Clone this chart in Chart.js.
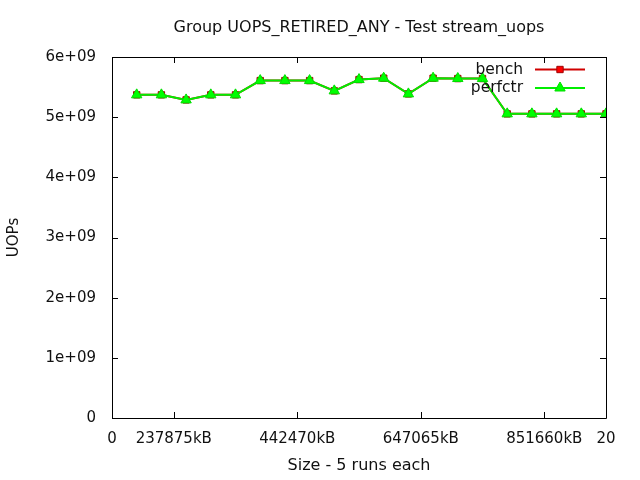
<!DOCTYPE html>
<html>
<head>
<meta charset="utf-8">
<script src="https://cdn.jsdelivr.net/npm/chart.js@4/dist/chart.umd.min.js"></script>
<style>
  html, body { margin: 0; padding: 0; background: #fff; }
  canvas { display: block; }
</style>
</head>
<body>
<canvas id="c" width="640" height="480"></canvas>
<script>
// run index on the x axis (one point per size)
var runs = [1, 2, 3, 4, 5, 6, 7, 8, 9, 10, 11, 12, 13, 14, 15, 16, 17, 18, 19, 20];
var bench = [5.371e9, 5.371e9, 5.287e9, 5.371e9, 5.371e9, 5.608e9, 5.608e9, 5.608e9, 5.437e9, 5.625e9,
             5.648e9, 5.387e9, 5.648e9, 5.642e9, 5.642e9, 5.055e9, 5.055e9, 5.055e9, 5.055e9, 5.055e9];
var perfctr = [5.371e9, 5.371e9, 5.287e9, 5.371e9, 5.371e9, 5.608e9, 5.608e9, 5.608e9, 5.437e9, 5.625e9,
               5.648e9, 5.387e9, 5.648e9, 5.642e9, 5.642e9, 5.055e9, 5.055e9, 5.055e9, 5.055e9, 5.055e9];
var xTickPos = [0, 2.5, 7.5, 12.5, 17.5, 20];
var xTickLabels = ["0", "237875kB", "442470kB", "647065kB", "851660kB", "20"];
var yTickLabels = ["0", "1e+09", "2e+09", "3e+09", "4e+09", "5e+09", "6e+09"];

var FONT = "'DejaVu Sans', sans-serif";
var TXT = "#111";

function pts(vals) {
  return runs.map(function (r, i) { return { x: r, y: vals[i] }; });
}

// gnuplot style frame with inward ticks on all four sides + key box
var frame = {
  id: "frame",
  afterDraw: function (chart) {
    var ctx = chart.ctx;
    var a = chart.chartArea;
    var xs = chart.scales.x, ys = chart.scales.y;
    var t = 6;
    ctx.save();
    ctx.strokeStyle = "#000";
    ctx.lineWidth = 1;
    ctx.beginPath();
    ctx.rect(Math.round(a.left) + 0.5, Math.round(a.top) + 0.5,
             Math.round(a.right - a.left), Math.round(a.bottom - a.top));
    ys.ticks.forEach(function (tk) {
      var y = Math.round(ys.getPixelForValue(tk.value)) + 0.5;
      ctx.moveTo(a.left, y); ctx.lineTo(a.left + t, y);
      ctx.moveTo(a.right, y); ctx.lineTo(a.right - t, y);
    });
    xs.ticks.forEach(function (tk) {
      var x = Math.round(xs.getPixelForValue(tk.value)) + 0.5;
      ctx.moveTo(x, a.bottom); ctx.lineTo(x, a.bottom - t);
      ctx.moveTo(x, a.top); ctx.lineTo(x, a.top + t);
    });
    ctx.stroke();

    // key
    var rows = [chart.data.datasets[0], chart.data.datasets[1]];
    var ky = [69.5, 88];
    ctx.font = "15.5px " + FONT;
    ctx.textAlign = "right";
    ctx.textBaseline = "middle";
    rows.forEach(function (ds, i) {
      ctx.fillStyle = TXT;
      ctx.fillText(ds.label, 523, ky[i]);
      ctx.strokeStyle = ds.borderColor;
      ctx.lineWidth = 2;
      ctx.beginPath();
      ctx.moveTo(535, ky[i]); ctx.lineTo(585, ky[i]);
      ctx.stroke();
      ctx.fillStyle = ds.pointBackgroundColor;
      ctx.strokeStyle = ds.pointBorderColor;
      ctx.lineWidth = 1;
      Chart.helpers.drawPoint(ctx, {
        pointStyle: ds.pointStyle, radius: ds.pointRadius, rotation: 0, borderWidth: 1
      }, 560, ky[i]);
    });
    ctx.restore();
  }
};

new Chart(document.getElementById("c").getContext("2d"), {
  type: "line",
  data: {
    datasets: [
      {
        label: "bench",
        data: pts(bench),
        order: 1,
        borderColor: "#d00000",
        borderWidth: 2,
        pointStyle: "rect",
        pointRadius: 4.5,
        pointBackgroundColor: "#ff0000",
        pointBorderColor: "#a00000",
        pointBorderWidth: 1
      },
      {
        label: "perfctr",
        data: pts(perfctr),
        order: 0,
        borderColor: "#00ee00",
        borderWidth: 2,
        pointStyle: "triangle",
        pointRadius: 6,
        pointBackgroundColor: "#00ff00",
        pointBorderColor: "#00dd00",
        pointBorderWidth: 1
      }
    ]
  },
  options: {
    responsive: false,
    animation: false,
    layout: { padding: { left: 0, right: 34, top: 0, bottom: 0 } },
    plugins: {
      legend: { display: false },
      tooltip: { enabled: false },
      title: {
        display: true,
        text: "Group UOPS_RETIRED_ANY - Test stream_uops",
        fullSize: false,
        color: TXT,
        font: { family: FONT, size: 16, weight: "normal" },
        padding: { top: 18.5, bottom: 19.3 }
      }
    },
    scales: {
      x: {
        type: "linear",
        min: 0,
        max: 20,
        afterBuildTicks: function (s) {
          s.ticks = xTickPos.map(function (v) { return { value: v }; });
        },
        afterFit: function (s) { s.height = 62; },
        grid: { display: false, drawTicks: false },
        border: { display: false },
        ticks: {
          autoSkip: false,
          maxRotation: 0,
          padding: 12,
          color: TXT,
          font: { family: FONT, size: 15 },
          callback: function (v, i) { return xTickLabels[i]; }
        },
        title: {
          display: true,
          text: "Size - 5 runs each",
          color: TXT,
          font: { family: FONT, size: 16 },
          padding: { top: 0, bottom: 5 }
        }
      },
      y: {
        min: 0,
        max: 6e9,
        afterFit: function (s) { s.width = 112; },
        grid: { display: false, drawTicks: false },
        border: { display: false },
        ticks: {
          stepSize: 1e9,
          padding: 16,
          color: TXT,
          font: { family: FONT, size: 15 },
          callback: function (v, i) { return yTickLabels[i]; }
        },
        title: {
          display: true,
          text: "UOPs",
          color: TXT,
          font: { family: FONT, size: 15 },
          padding: { top: 5, bottom: 0 }
        }
      }
    }
  },
  plugins: [frame]
});
</script>
</body>
</html>
